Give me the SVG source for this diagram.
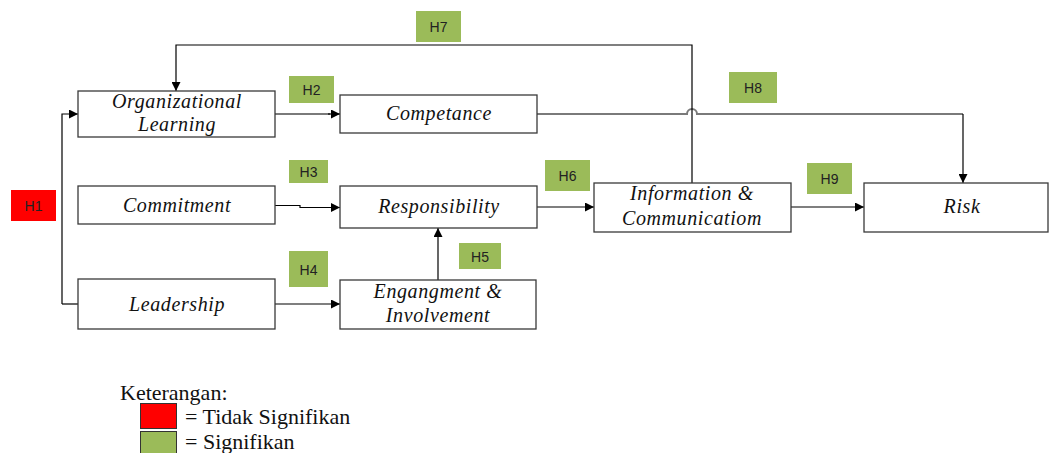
<svg xmlns="http://www.w3.org/2000/svg" width="1049" height="453" viewBox="0 0 1049 453">
<style>
.box{fill:#fff;stroke:#3a3a3a;stroke-width:1.3}
.t{font-family:"Liberation Serif","Times New Roman",serif;font-style:italic;font-size:20px;letter-spacing:0.6px;fill:#111;text-anchor:middle}
.h{font-family:"Liberation Sans",Arial,sans-serif;font-size:14px;fill:#222;text-anchor:middle}
.g{fill:#9BBB59}
.r{fill:#FF0000}
.c{fill:none;stroke:#000;stroke-width:1.2}
.cg{fill:none;stroke:#7a7a7a;stroke-width:2}
.lg{font-family:"Liberation Serif","Times New Roman",serif;font-size:22px;fill:#111}
</style>
<defs>
<marker id="a" viewBox="0 0 10 10" refX="10" refY="5" markerWidth="11" markerHeight="9" markerUnits="userSpaceOnUse" orient="auto"><path d="M0,0 L10,5 L0,10 Z" fill="#000"/></marker>
</defs>
<g id="connectors">
<path class="c" d="M62,304 L62,114 L78,114" marker-end="url(#a)"/>
<path class="c" d="M62,304 L78,304"/>
<path class="cg" d="M275,114 L330,114" />
<path class="c" d="M328,114 L340,114" marker-end="url(#a)"/>
<path class="cg" d="M537,114 L687,114 A5,5 0 0 1 697,114 L963,114"/>
<path class="c" d="M963,114 L963,183" marker-end="url(#a)"/>
<path class="c" d="M692,183 L692,45 L176,45 L176,91" marker-end="url(#a)"/>
<path class="c" d="M275,205.5 L300,205.5 L300,207.5 L340,207.5" marker-end="url(#a)"/>
<path class="c" d="M275,304 L340,304" marker-end="url(#a)"/>
<path class="c" d="M438,280 L438,228" marker-end="url(#a)"/>
<path class="c" d="M537,207 L594,207" marker-end="url(#a)"/>
<path class="c" d="M791,207 L864,207" marker-end="url(#a)"/>
</g>
<g id="ol"><rect class="box" x="78" y="91" width="197" height="46"/><text class="t" x="177" y="108">Organizational</text><text class="t" x="177" y="131">Learning</text></g>
<g id="competance"><rect class="box" x="340" y="95" width="197" height="38"/><text class="t" x="439" y="120">Competance</text></g>
<g id="commitment"><rect class="box" x="78" y="186" width="197" height="38"/><text class="t" x="177" y="212">Commitment</text></g>
<g id="responsibility"><rect class="box" x="340" y="186" width="197" height="42"/><text class="t" x="439" y="213">Responsibility</text></g>
<g id="leadership"><rect class="box" x="78" y="279" width="197" height="50"/><text class="t" x="177" y="311">Leadership</text></g>
<g id="engangment"><rect class="box" x="340" y="280" width="196" height="49"/><text class="t" x="438" y="298">Engangment &amp;</text><text class="t" x="438" y="322">Involvement</text></g>
<g id="info"><rect class="box" x="594" y="183" width="197" height="49"/><text class="t" x="692" y="200">Information &amp;</text><text class="t" x="692" y="225">Communicatiom</text></g>
<g id="risk"><rect class="box" x="864" y="183" width="184" height="49"/><text class="t" x="962" y="213">Risk</text></g>
<g id="labels">
<g id="h1"><rect class="r" x="11" y="190" width="45" height="31"/><text class="h" x="33.5" y="210.5">H1</text></g>
<g id="h2"><rect class="g" x="289" y="76" width="45" height="27"/><text class="h" x="311.5" y="94.5">H2</text></g>
<g id="h3"><rect class="g" x="289" y="160" width="39" height="23"/><text class="h" x="308.5" y="176.5">H3</text></g>
<g id="h4"><rect class="g" x="289" y="251" width="39" height="36"/><text class="h" x="308.5" y="274.5">H4</text></g>
<g id="h5"><rect class="g" x="459" y="243" width="42" height="26"/><text class="h" x="480" y="261.5">H5</text></g>
<g id="h6"><rect class="g" x="545" y="160" width="45" height="31"/><text class="h" x="567.5" y="180.5">H6</text></g>
<g id="h7"><rect class="g" x="416" y="11" width="45" height="31"/><text class="h" x="438.5" y="31.5">H7</text></g>
<g id="h8"><rect class="g" x="729" y="72" width="48" height="31"/><text class="h" x="753" y="92.5">H8</text></g>
<g id="h9"><rect class="g" x="807" y="163" width="45" height="31"/><text class="h" x="829.5" y="183.5">H9</text></g>
</g>
<g id="legend">
<text class="lg" x="120" y="400">Keterangan:</text>
<rect x="140.5" y="403.5" width="36" height="25" fill="#FF0000" stroke="#333" stroke-width="1"/>
<rect x="140.5" y="431.5" width="36" height="25" fill="#9BBB59" stroke="#333" stroke-width="1"/>
<text class="lg" x="185" y="424">= Tidak Signifikan</text>
<text class="lg" x="185" y="449">= Signifikan</text>
</g>
</svg>
